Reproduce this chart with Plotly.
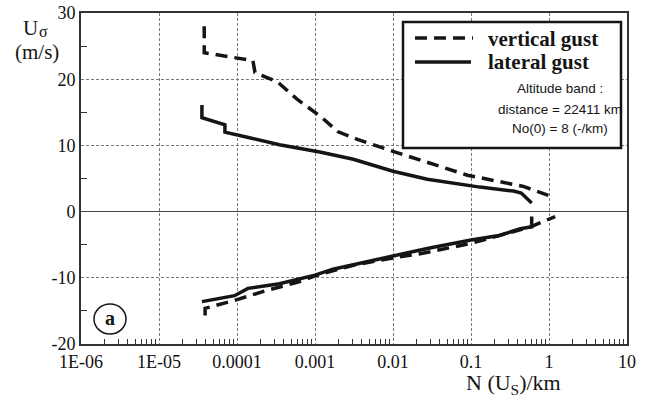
import plotly.graph_objects as go

# ---------------- data ----------------
vert_pos_n = [3.8e-5, 3.8e-5, 1.6e-4, 1.7e-4, 3.3e-4, 6.0e-4, 1.2e-3, 1.95e-3, 3.5e-3, 0.01, 0.09, 0.47, 1.12]
vert_pos_u = [28.0, 24.0, 22.8, 21.0, 19.6, 16.9, 14.3, 12.1, 10.9, 9.1, 5.5, 3.8, 2.2]

vert_neg_n = [3.9e-5, 3.9e-5, 4.9e-5, 1.0e-4, 2.4e-4, 5.9e-4, 1.0e-3, 3.1e-3, 0.01, 0.024, 0.1, 0.43, 0.58, 1.2]
vert_neg_u = [-15.7, -14.6, -14.3, -13.3, -11.9, -10.7, -9.7, -8.1, -7.0, -6.3, -4.8, -2.8, -2.3, -0.75]

lat_pos_n = [3.55e-5, 3.55e-5, 7.0e-5, 7.0e-5, 1.4e-4, 3.5e-4, 1.15e-3, 3.1e-3, 0.01, 0.0275, 0.13, 0.35, 0.44, 0.6]
lat_pos_u = [16.1, 14.2, 13.1, 12.0, 11.2, 10.1, 9.0, 7.9, 6.1, 4.9, 3.7, 3.1, 2.8, 1.3]

lat_neg_n = [0.6, 0.6, 0.43, 0.23, 0.1, 0.0295, 0.01, 1.7e-3, 1.0e-3, 3.5e-4, 1.38e-4, 9.3e-5, 3.55e-5]
lat_neg_u = [-0.75, -2.3, -2.6, -3.6, -4.3, -5.5, -6.7, -8.7, -9.6, -10.9, -11.6, -12.7, -13.6]

x_tick_vals = [1e-6, 1e-5, 1e-4, 1e-3, 1e-2, 0.1, 1, 10]
x_tick_text = ["1E-06", "1E-05", "0.0001", "0.001", "0.01", "0.1", "1", "10"]
y_tick_vals = [-20, -10, 0, 10, 20, 30]
y_tick_text = ["-20", "-10", "0", "10", "20", "30"]

series_names = ["vertical gust", "lateral gust"]
info_lines = ["Altitude band :", "distance = 22411 km", "No(0) = 8 (-/km)"]

# ---------------- figure ----------------
W, H = 652, 405
L, R, T, B = 81, 25, 13, 61
PW, PH = W - L - R, H - T - B


def px(x):
    return (x - L) / PW


def py(y):
    return (H - B - y) / PH


INK = "#151515"
SERIF = "Liberation Serif, Times New Roman, serif"
SANS = "Liberation Sans, Arial, sans-serif"
DASH = "12px,7px"
LW = 3.5

fig = go.Figure()
fig.add_trace(go.Scatter(x=vert_pos_n, y=vert_pos_u, mode="lines", name=series_names[0],
                         line=dict(color=INK, width=LW, dash=DASH), showlegend=False))
fig.add_trace(go.Scatter(x=vert_neg_n, y=vert_neg_u, mode="lines", name=series_names[0],
                         line=dict(color=INK, width=LW, dash=DASH), showlegend=False))
fig.add_trace(go.Scatter(x=lat_pos_n, y=lat_pos_u, mode="lines", name=series_names[1],
                         line=dict(color=INK, width=LW), showlegend=False))
fig.add_trace(go.Scatter(x=lat_neg_n, y=lat_neg_u, mode="lines", name=series_names[1],
                         line=dict(color=INK, width=LW), showlegend=False))

minor_x = [k * 10.0 ** e for e in range(-6, 1) for k in range(2, 10)]

fig.update_xaxes(
    type="log", range=[-6, 1], automargin=False,
    tickmode="array", tickvals=x_tick_vals, ticktext=x_tick_text,
    ticks="", showgrid=True, gridcolor="#7a7a7a", gridwidth=1, griddash="3px,2px",
    showline=True, linecolor="#333", linewidth=2, mirror=True,
    tickfont=dict(family=SERIF, size=18, color="#111"),
    minor=dict(tickmode="array", tickvals=minor_x, ticks="inside", ticklen=5,
               tickcolor="#333", tickwidth=1, showgrid=False),
    zeroline=False,
)
fig.update_yaxes(
    range=[-20, 30], automargin=False,
    tickmode="array", tickvals=y_tick_vals, ticktext=y_tick_text,
    ticks="", showgrid=True, gridcolor="#7a7a7a", gridwidth=1, griddash="3px,2px",
    showline=True, linecolor="#333", linewidth=2, mirror=True,
    tickfont=dict(family=SERIF, size=18, color="#111"),
    minor=dict(tickmode="array", tickvals=[-15, -5, 5, 15, 25], ticks="inside", ticklen=6,
               tickcolor="#333", tickwidth=1, showgrid=False),
    zeroline=True, zerolinecolor="#444", zerolinewidth=1.2,
)

shapes = []
annotations = []

# legend box
shapes.append(dict(type="rect", xref="paper", yref="paper",
                   x0=px(403), x1=px(621), y0=py(148), y1=py(22),
                   line=dict(color=INK, width=2.5), fillcolor="white", layer="above"))
shapes.append(dict(type="line", xref="paper", yref="paper",
                   x0=px(415), x1=px(473), y0=py(38), y1=py(38),
                   line=dict(color=INK, width=LW, dash=DASH)))
shapes.append(dict(type="line", xref="paper", yref="paper",
                   x0=px(415), x1=px(471), y0=py(62), y1=py(62),
                   line=dict(color=INK, width=LW)))
for name, yy in zip(series_names, [39, 62]):
    annotations.append(dict(text="<b>%s</b>" % name, xref="paper", yref="paper",
                            x=px(486), y=py(yy), xanchor="left", yanchor="middle",
                            showarrow=False, font=dict(family=SERIF, size=21, color=INK)))
for line, yy in zip(info_lines, [89, 109, 128]):
    annotations.append(dict(text=line, xref="paper", yref="paper",
                            x=px(560), y=py(yy), xanchor="center", yanchor="middle",
                            showarrow=False, font=dict(family=SANS, size=13.5, color=INK)))

# panel label (a)
shapes.append(dict(type="circle", xref="paper", yref="paper",
                   x0=px(94), x1=px(126), y0=py(334), y1=py(304),
                   line=dict(color=INK, width=1.5), layer="above"))
annotations.append(dict(text="<b>a</b>", xref="paper", yref="paper",
                        x=px(110), y=py(318), xanchor="center", yanchor="middle",
                        showarrow=False, font=dict(family=SERIF, size=20, color=INK)))

# axis titles
annotations.append(dict(text="U", xref="paper", yref="paper", x=px(30), y=py(28),
                        xanchor="center", yanchor="middle", showarrow=False,
                        font=dict(family=SERIF, size=21, color=INK)))
annotations.append(dict(text="σ", xref="paper", yref="paper", x=px(43), y=py(32),
                        xanchor="center", yanchor="middle", showarrow=False,
                        font=dict(family=SERIF, size=16, color=INK)))
annotations.append(dict(text="(m/s)", xref="paper", yref="paper", x=px(37), y=py(52),
                        xanchor="center", yanchor="middle", showarrow=False,
                        font=dict(family=SERIF, size=21, color=INK)))
annotations.append(dict(text="N (U<sub>S</sub>)/km", xref="paper", yref="paper",
                        x=px(513), y=py(384), xanchor="center", yanchor="middle",
                        showarrow=False, font=dict(family=SERIF, size=22, color=INK)))

fig.update_layout(
    width=W, height=H,
    margin=dict(l=L, r=R, t=T, b=B, autoexpand=False),
    paper_bgcolor="white", plot_bgcolor="white",
    showlegend=False,
    shapes=shapes, annotations=annotations,
)

fig.write_html("out.html", config={"displayModeBar": False},
               post_script="document.body.style.margin='0';")
